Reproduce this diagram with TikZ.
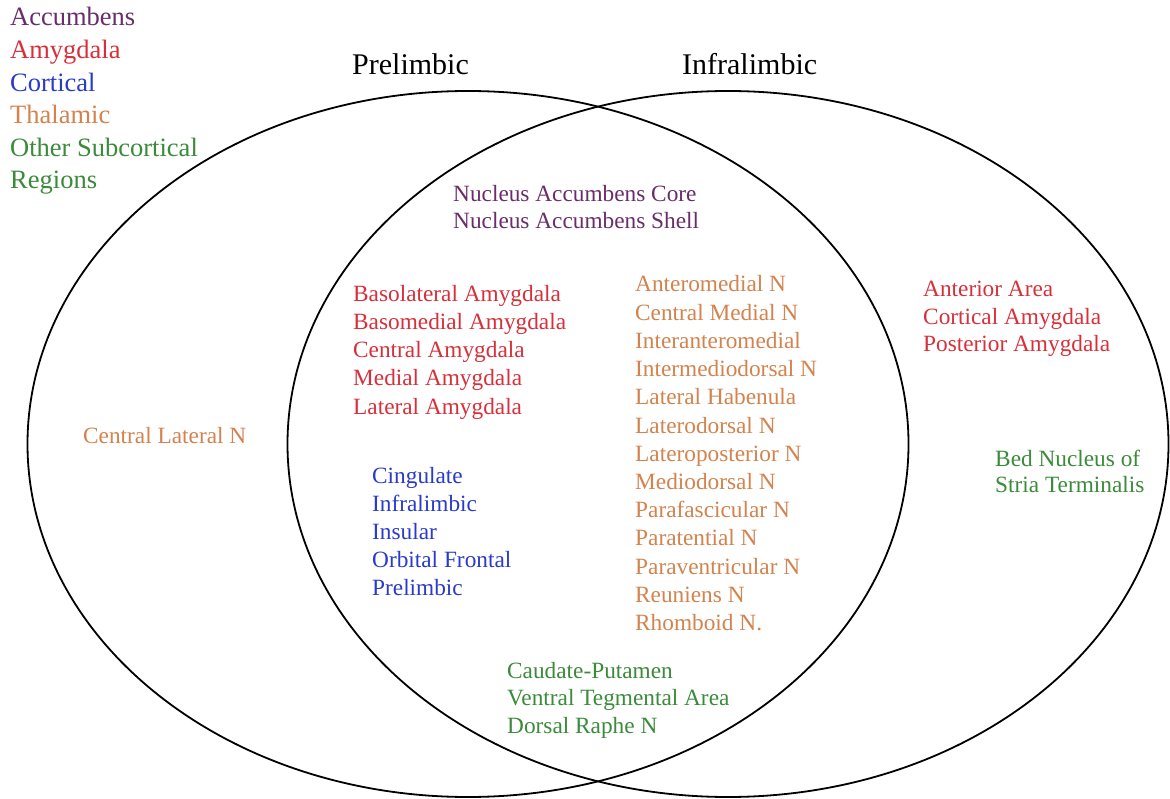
\documentclass[tikz,border=0pt]{standalone}
\usepackage{fontspec}
\setmainfont{Liberation Serif}
\definecolor{cacc}{HTML}{6A2D6B}
\definecolor{camy}{HTML}{D8303A}
\definecolor{ccor}{HTML}{2A3BC9}
\definecolor{ctha}{HTML}{D2834E}
\definecolor{coth}{HTML}{3B8B3B}
\begin{document}
\begin{tikzpicture}[x=1pt,y=-1pt,
  lbl/.style={anchor=base west, inner sep=0pt, font=\fontsize{23.3}{28}\selectfont},
  leg/.style={anchor=base west, inner sep=0pt, font=\fontsize{26.5}{32}\selectfont},
  ttl/.style={anchor=base west, inner sep=0pt, font=\fontsize{30}{36}\selectfont},
  venn/.style={line width=1.8pt}]
\useasboundingbox (0,0) rectangle (1170,799);
\fill[white] (0,0) rectangle (1170,799);
% circles
\draw[venn] (468,444) ellipse [x radius=440.5pt, y radius=353pt];
\draw[venn] (728,444) ellipse [x radius=440.5pt, y radius=353pt];
% titles
\node[ttl] (pl) at (352,75) {Prelimbic};
\node[ttl] (il) at (682,75) {Infralimbic};
% legend
\foreach \t/\c [count=\i] in {Accumbens/cacc, Amygdala/camy, Cortical/ccor, Thalamic/ctha, Other Subcortical/coth, Regions/coth}
  \node[leg, text=\c] (leg\i) at (10,{26+32.6*(\i-1)}) {\t};
% accumbens
\foreach \t [count=\i] in {Nucleus Accumbens Core, Nucleus Accumbens Shell}
  \node[lbl, text=cacc] (acc\i) at (453,{202+27*(\i-1)}) {\t};
% amygdala (shared)
\foreach \t [count=\i] in {Basolateral Amygdala, Basomedial Amygdala, Central Amygdala, Medial Amygdala, Lateral Amygdala}
  \node[lbl, text=camy] (amy\i) at (353,{302+28*(\i-1)}) {\t};
% cortical
\foreach \t [count=\i] in {Cingulate, Infralimbic, Insular, Orbital Frontal, Prelimbic}
  \node[lbl, text=ccor] (cor\i) at (372,{483+28.2*(\i-1)}) {\t};
% thalamic
\foreach \t [count=\i] in {Anteromedial N, Central Medial N, Interanteromedial, Intermediodorsal N, Lateral Habenula, Laterodorsal N, Lateroposterior N, Mediodorsal N, Parafascicular N, Paratential N, Paraventricular N, Reuniens N, Rhomboid N.}
  \node[lbl, text=ctha] (tha\i) at (635,{292+28.2*(\i-1)}) {\t};
% other subcortical (shared)
\foreach \t [count=\i] in {Caudate-Putamen, Ventral Tegmental Area, Dorsal Raphe N}
  \node[lbl, text=coth] (oth\i) at (507,{678+27.5*(\i-1)}) {\t};
% infralimbic only
\foreach \t [count=\i] in {Anterior Area, Cortical Amygdala, Posterior Amygdala}
  \node[lbl, text=camy] (ila\i) at (923,{297+27.5*(\i-1)}) {\t};
\foreach \t [count=\i] in {Bed Nucleus of, Stria Terminalis}
  \node[lbl, text=coth] (bed\i) at (995,{466+26*(\i-1)}) {\t};
% prelimbic only
\node[lbl, text=ctha] (cln) at (83,443) {Central Lateral N};
\end{tikzpicture}
\end{document}
